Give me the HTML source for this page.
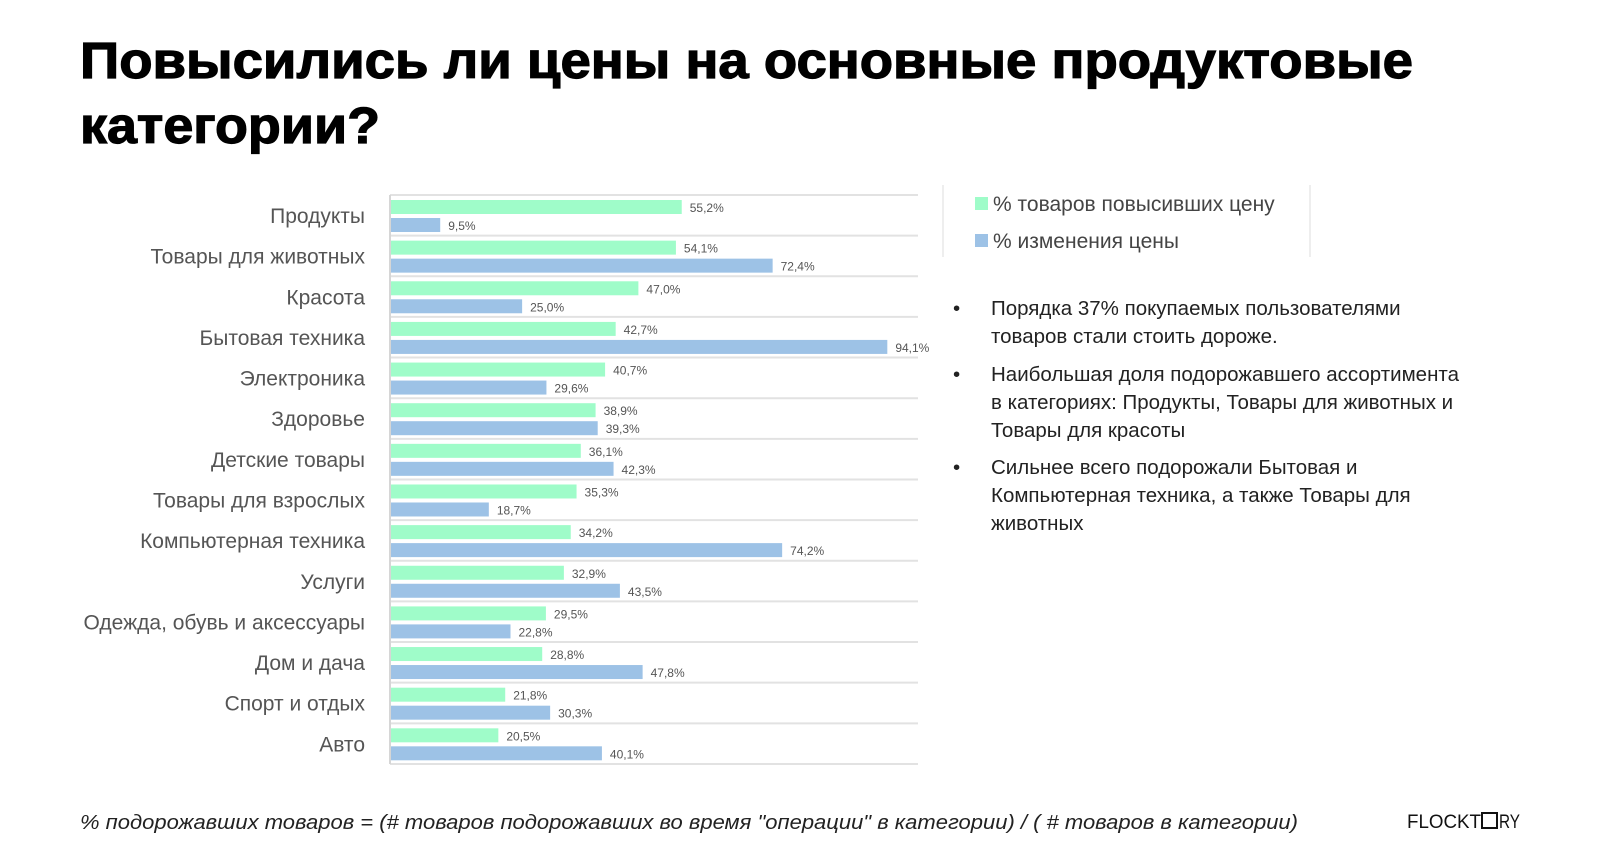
<!DOCTYPE html>
<html><head><meta charset="utf-8">
<style>
html,body{margin:0;padding:0;background:#fff;}
svg{display:block;font-family:"Liberation Sans","DejaVu Sans",sans-serif;}
</style></head>
<body>
<svg id="chart" width="1600" height="867" viewBox="0 0 1600 867" xmlns="http://www.w3.org/2000/svg">
<rect width="1600" height="867" fill="#fff"/>
<g font-weight="bold" font-size="51" fill="#000" stroke="#000" stroke-width="1.2">
<text x="80" y="78" textLength="1333" lengthAdjust="spacingAndGlyphs">Повысились ли цены на основные продуктовые</text>
<text x="80" y="143" textLength="300" lengthAdjust="spacingAndGlyphs">категории?</text>
</g>
<g id="plot"></g>
<g>
<line x1="943" y1="185" x2="943" y2="257" stroke="#ddd"/>
<line x1="1310" y1="185" x2="1310" y2="257" stroke="#ddd"/>
<rect x="975" y="197" width="13" height="13" fill="#9ffcc9"/>
<text x="993" y="211" font-size="21" fill="#444">% товаров повысивших цену</text>
<rect x="975" y="234" width="13" height="13" fill="#9dc2e6"/>
<text x="993" y="248" font-size="21" fill="#444">% изменения цены</text>
</g>
<g font-size="20.5" fill="#222">
<text x="953" y="315">•</text>
<text x="991" y="315">Порядка 37% покупаемых пользователями</text>
<text x="991" y="343">товаров стали стоить дороже.</text>
<text x="953" y="381">•</text>
<text x="991" y="381">Наибольшая доля подорожавшего ассортимента</text>
<text x="991" y="409">в категориях: Продукты, Товары для животных и</text>
<text x="991" y="437">Товары для красоты</text>
<text x="953" y="474">•</text>
<text x="991" y="474">Сильнее всего подорожали Бытовая и</text>
<text x="991" y="502">Компьютерная техника, а также Товары для</text>
<text x="991" y="530">животных</text>
</g>
<text x="80" y="829" font-size="20.5" font-style="italic" fill="#222" textLength="1218" lengthAdjust="spacingAndGlyphs">% подорожавших товаров = (# товаров подорожавших во время "операции" в категории) / ( # товаров в категории)</text>
<g>
<text x="1407" y="828" font-size="19" fill="#111" textLength="74" lengthAdjust="spacingAndGlyphs">FLOCKT</text>
<rect x="1482" y="813" width="15" height="15" fill="none" stroke="#111" stroke-width="2"/>
<text x="1499" y="828" font-size="19" fill="#111" textLength="21" lengthAdjust="spacingAndGlyphs">RY</text>
</g>
</svg>
<script>
const categories = ["Продукты","Товары для животных","Красота","Бытовая техника","Электроника","Здоровье","Детские товары","Товары для взрослых","Компьютерная техника","Услуги","Одежда, обувь и аксессуары","Дом и дача","Спорт и отдых","Авто"];
const priceUpShare = [55.2,54.1,47.0,42.7,40.7,38.9,36.1,35.3,34.2,32.9,29.5,28.8,21.8,20.5];
const priceChange = [9.5,72.4,25.0,94.1,29.6,39.3,42.3,18.7,74.2,43.5,22.8,47.8,30.3,40.1];
const NS = "http://www.w3.org/2000/svg";
const plotG = document.getElementById('plot');
const x0 = 390, pxPer = 5.285, plotTop = 195, rowH = 40.64, xEnd = 918;
function xs(v){ return x0 + v*pxPer; }
function mk(tag, attrs){ const e=document.createElementNS(NS,tag); for(const k in attrs) e.setAttribute(k,attrs[k]); plotG.appendChild(e); return e; }
function fmt(v){ return v.toFixed(1).replace('.',',')+'%'; }
for(let i=0;i<=categories.length;i++){
  const ln = mk('line',{x1:x0,x2:xEnd,y1:plotTop+i*rowH,y2:plotTop+i*rowH,stroke:'#e2e2e2','stroke-width':2});
  
  
}
const ax = mk('line',{x1:x0,x2:x0,y1:plotTop,y2:plotTop+categories.length*rowH,stroke:'#d6d6d6','stroke-width':2});


categories.forEach((c,i)=>{
  const y = plotTop + i*rowH;
  const lab = mk('text',{x:365,y:y+28,'text-anchor':'end','font-size':21,fill:'#555'});
  lab.textContent = c;
  
  
  const b1 = mk('rect',{x:x0+1,y:y+5,width:xs(priceUpShare[i])-x0-1,height:14,fill:'#9ffcc9'});
  
  
  const t1 = mk('text',{x:xs(priceUpShare[i])+8,y:y+17,'font-size':12,fill:'#555'});
  t1.textContent = fmt(priceUpShare[i]);
  
  
  const b2 = mk('rect',{x:x0+1,y:y+23,width:xs(priceChange[i])-x0-1,height:14,fill:'#9dc2e6'});
  
  
  const t2 = mk('text',{x:xs(priceChange[i])+8,y:y+35,'font-size':12,fill:'#555'});
  t2.textContent = fmt(priceChange[i]);
  
  
});
</script>
</body></html>
